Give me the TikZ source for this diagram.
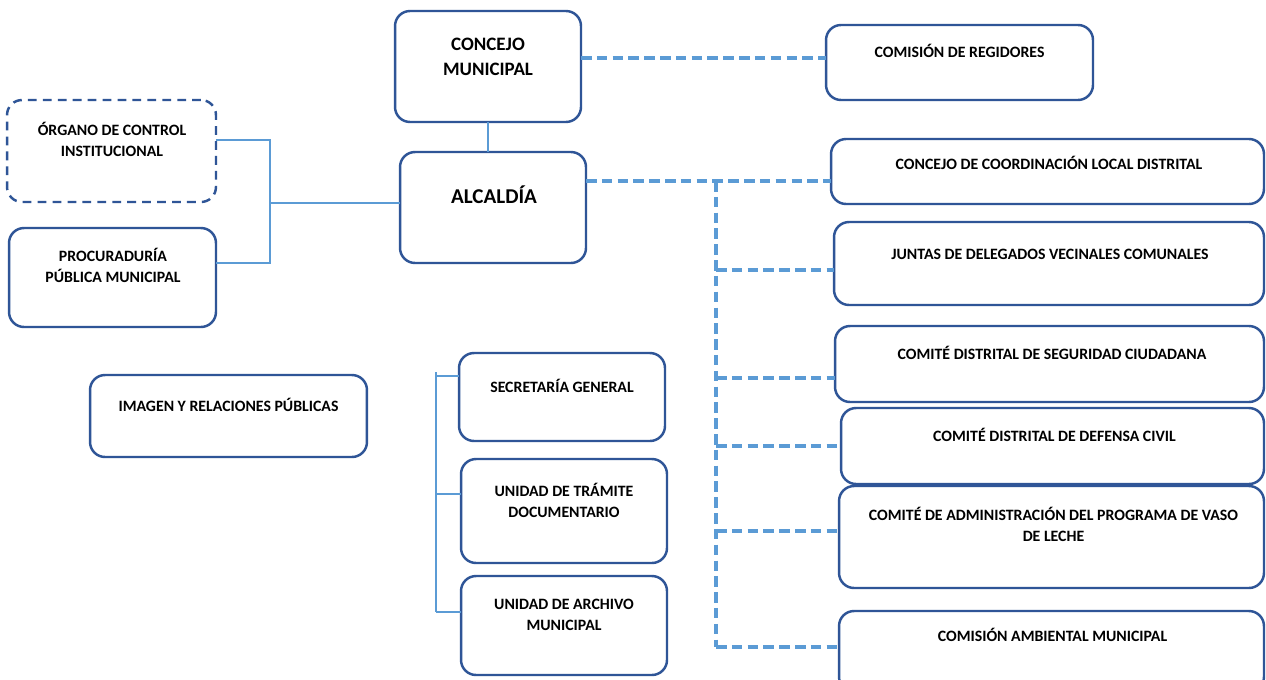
\documentclass[tikz,border=0pt]{standalone}
\usepackage{fontspec}
\setmainfont{Carlito}
\definecolor{boxblue}{RGB}{47,85,151}
\definecolor{lineblue}{RGB}{91,155,213}
\begin{document}
\begin{tikzpicture}[x=0.02cm,y=-0.02cm,
  box/.style={draw=boxblue, line width=1.4pt, rounded corners=0.3cm, inner sep=0pt, outer sep=0pt, fill=white},
  dbox/.style={box, dash pattern=on 5pt off 3.5pt},
  txt/.style={anchor=north, inner sep=0pt, align=center, font=\fontsize{9}{12}\selectfont\bfseries},
  midtxt/.style={anchor=north, inner sep=0pt, align=center, font=\fontsize{10.8}{14.4}\selectfont\bfseries},
  bigtxt/.style={anchor=north, inner sep=0pt, align=center, font=\fontsize{12}{15}\selectfont\bfseries},
  solidc/.style={draw=lineblue, line width=1.5pt},
  dashc/.style={draw=lineblue, line width=2.4pt, dash pattern=on 6pt off 3pt}]
\clip (0,0) rectangle (1266,679);
\fill[white] (0,0) rectangle (1266,679);
% boxes
\node[box, minimum width=3.72cm, minimum height=2.22cm] (concejo) at (488,66.5) {};
\node[box, minimum width=5.34cm, minimum height=1.5cm] (comision) at (959.5,62.5) {};
\node[dbox, minimum width=4.18cm, minimum height=2.04cm] (organo) at (111.5,151) {};
\node[box, minimum width=3.72cm, minimum height=2.22cm] (alcaldia) at (493,207.5) {};
\node[box, minimum width=4.14cm, minimum height=1.98cm] (procur) at (112.5,277.5) {};
\node[box, minimum width=5.54cm, minimum height=1.64cm] (imagen) at (228.5,416) {};
\node[box, minimum width=4.12cm, minimum height=1.76cm] (secret) at (562,397) {};
\node[box, minimum width=4.12cm, minimum height=2.08cm] (tramite) at (564,511) {};
\node[box, minimum width=4.12cm, minimum height=1.98cm] (archivo) at (564,625.5) {};
\node[box, minimum width=8.66cm, minimum height=1.3cm] (coord) at (1047.5,171.5) {};
\node[box, minimum width=8.6cm, minimum height=1.66cm] (juntas) at (1049,263.5) {};
\node[box, minimum width=8.58cm, minimum height=1.52cm] (segur) at (1049.5,364) {};
\node[box, minimum width=8.5cm, minimum height=2.04cm] (vaso) at (1051.5,537) {};
\node[box, minimum width=8.46cm, minimum height=1.52cm] (defensa) at (1052.5,446) {};
\node[box, minimum width=8.5cm, minimum height=1.62cm] (ambient) at (1051.5,651.5) {};
% texts
\node[midtxt] (concejo-t) at (488,32) {\strut CONCEJO\\\strut MUNICIPAL};
\node[txt] (comision-t) at (959.5,42) {\strut COMISIÓN DE REGIDORES};
\node[txt] (organo-t) at (112,120) {\strut ÓRGANO DE CONTROL\\\strut INSTITUCIONAL};
\node[bigtxt] (alcaldia-t) at (494,185) {\strut ALCALDÍA};
\node[txt] (procur-t) at (113,246) {\strut PROCURADURÍA\\\strut PÚBLICA MUNICIPAL};
\node[txt] (imagen-t) at (228.5,396) {\strut IMAGEN Y RELACIONES PÚBLICAS};
\node[txt] (secret-t) at (562,377) {\strut SECRETARÍA GENERAL};
\node[txt] (tramite-t) at (564,481) {\strut UNIDAD DE TRÁMITE\\\strut DOCUMENTARIO};
\node[txt] (archivo-t) at (564,594) {\strut UNIDAD DE ARCHIVO\\\strut MUNICIPAL};
\node[txt] (coord-t) at (1049,154) {\strut CONCEJO DE COORDINACIÓN LOCAL DISTRITAL};
\node[txt] (juntas-t) at (1050,244) {\strut JUNTAS DE DELEGADOS VECINALES COMUNALES};
\node[txt] (segur-t) at (1052,344) {\strut COMITÉ DISTRITAL DE SEGURIDAD CIUDADANA};
\node[txt] (defensa-t) at (1054.5,426) {\strut COMITÉ DISTRITAL DE DEFENSA CIVIL};
\node[txt] (vaso-t) at (1053.5,505) {\strut COMITÉ DE ADMINISTRACIÓN DEL PROGRAMA DE VASO\\\strut DE LECHE};
\node[txt] (ambient-t) at (1052.5,626) {\strut COMISIÓN AMBIENTAL MUNICIPAL};
% solid connectors
\draw[solidc] (concejo.south) -- (concejo.south |- alcaldia.north);
\coordinate (lbar) at (270,203);
\draw[solidc] (organo.east |- 0,140) -- (270,140) -- (270,263) -- (procur.east |- 0,263);
\draw[solidc] (lbar) -- (alcaldia.west |- lbar);
\draw[solidc] (436,372) -- (436,612);
\draw[solidc] (436,376) -- (secret.west |- 0,376);
\draw[solidc] (436,494) -- (tramite.west |- 0,494);
\draw[solidc] (436,612) -- (archivo.west |- 0,612);
% dashed connectors
\draw[dashc] (concejo.east |- 0,58) -- (comision.west |- 0,58);
\coordinate (rtop) at (716,181);
\coordinate (rbot) at (716,647);
\draw[dashc] (alcaldia.east |- rtop) -- (coord.west |- rtop);
\draw[dashc] (rtop) -- (rbot);
\draw[dashc] (716,270) -- (juntas.west |- 0,270);
\draw[dashc] (716,378) -- (segur.west |- 0,378);
\draw[dashc] (716,446) -- (defensa.west |- 0,446);
\draw[dashc] (716,531) -- (vaso.west |- 0,531);
\draw[dashc] (rbot) -- (ambient.west |- rbot);
\end{tikzpicture}
\end{document}
